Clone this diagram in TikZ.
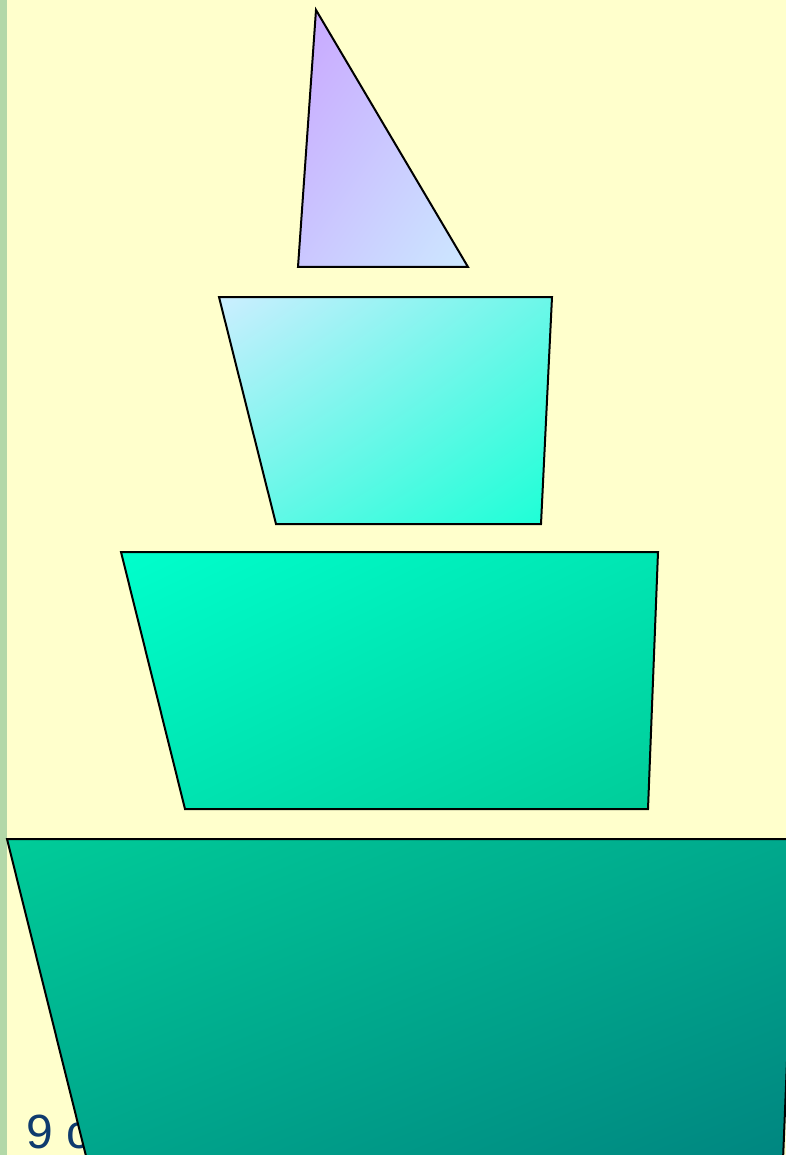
\documentclass[tikz,border=0pt]{standalone}
\usepackage{fontspec}
\usetikzlibrary{shadings}
\setmainfont{Liberation Sans}
\definecolor{bgyellow}{HTML}{FFFFCC}
\definecolor{stripgreen}{HTML}{B2D8A8}
\definecolor{txtblue}{HTML}{0F3B6E}
\definecolor{triA}{HTML}{C9A6FF}
\definecolor{triB}{HTML}{CCE8FF}
\definecolor{tzA}{HTML}{CCEEFF}
\definecolor{tzB}{HTML}{1CFFD6}
\definecolor{tzC}{HTML}{00FFCC}
\definecolor{tzD}{HTML}{00CC99}
\definecolor{tzE}{HTML}{00CC99}
\definecolor{tzF}{HTML}{008580}
\tikzset{
  polyshape/.style={draw=black, line width=2pt, line join=miter},
}
\begin{document}
\begin{tikzpicture}[x=1pt,y=-1pt]
\useasboundingbox (0,0) rectangle (786,1155);
\clip (0,0) rectangle (786,1155);
\fill[bgyellow] (0,0) rectangle (786,1155);
\fill[stripgreen] (0,0) rectangle (7,1155);
\node[anchor=base west, inner sep=0pt, text=txtblue, font=\fontsize{48}{56}\selectfont] (lbl) at (26,1148) {9 c};
% triangle
\shade[polyshape, upper left=triA, lower right=triB, upper right=triA!50!triB, lower left=triA!50!triB]
  (316,10) -- (468,267) -- (298,267) -- cycle;
% trapezoid 2
\shade[polyshape, upper left=tzA, lower right=tzB, upper right=tzA!45!tzB, lower left=tzA!45!tzB]
  (219,297) -- (552,297) -- (541,524) -- (276,524) -- cycle;
% trapezoid 3
\shade[polyshape, upper left=tzC, lower right=tzD, upper right=tzC!50!tzD, lower left=tzC!50!tzD]
  (121,552) -- (658,552) -- (648,809) -- (185,809) -- cycle;
% trapezoid 4
\shade[polyshape, upper left=tzE, lower right=tzF, upper right=tzE!50!tzF, lower left=tzE!50!tzF]
  (7,839) -- (796,839) -- (783,1160) -- (87,1160) -- cycle;
\end{tikzpicture}
\end{document}
